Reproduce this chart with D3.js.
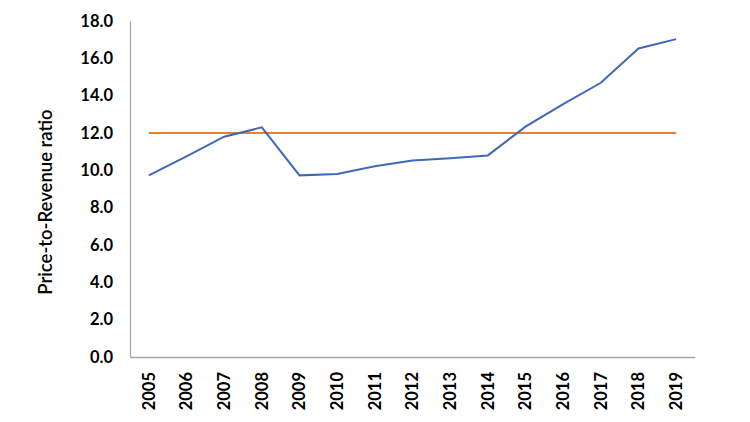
<!DOCTYPE html>
<html><head><meta charset="utf-8">
<script src="https://cdn.jsdelivr.net/npm/d3@7"></script>
<style>body{margin:0;background:#fff;}svg{display:block;}</style>
</head><body>
<svg id="c" width="750" height="422"></svg>
<script>
const years = ["2005","2006","2007","2008","2009","2010","2011","2012","2013","2014","2015","2016","2017","2018","2019"];
const priceToRevenue = [9.73,10.75,11.8,12.3,9.73,9.8,10.22,10.53,10.65,10.8,12.34,13.55,14.69,16.53,17.03];
const benchmark = [12,12,12,12,12,12,12,12,12,12,12,12,12,12,12];
const yTicks = [0,2,4,6,8,10,12,14,16,18];
const yLabel = "Price-to-Revenue ratio";

(function(){
const svg = d3.select("#c");
const mLeft = 130, mRight = 695, mTop = 21, mBottom = 357;
const x = d3.scaleBand().domain(years).range([mLeft, mRight]);
const y = d3.scaleLinear().domain([0, 18]).range([mBottom, mTop]);
const font = "Lato, 'Open Sans', sans-serif";

const yAxis = d3.axisLeft(y).tickValues(yTicks).tickFormat(d3.format(".1f")).tickSize(0).tickPadding(17);
const gy = svg.append("g").attr("transform", `translate(${mLeft},0)`).call(yAxis);
gy.select(".domain").attr("stroke", "#a6a6a6").attr("stroke-width", 1.3);
gy.selectAll("text").attr("font-family", font).attr("font-weight", "bold").attr("font-size", 16.5).attr("fill", "#000");

const xAxis = d3.axisBottom(x).tickSize(0).tickPadding(0);
const gx = svg.append("g").attr("transform", `translate(0,${mBottom})`).call(xAxis);
gx.select(".domain").attr("stroke", "#a6a6a6").attr("stroke-width", 1.3);
gx.selectAll("text")
  .attr("font-family", font).attr("font-weight", "bold").attr("font-size", 16.5).attr("fill", "#000")
  .attr("transform", "rotate(-90)")
  .attr("text-anchor", "end")
  .attr("x", -15).attr("y", 0).attr("dy", "0.35em");

svg.append("text")
  .attr("transform", `translate(52,${(mTop+mBottom)/2+13}) rotate(-90)`)
  .attr("text-anchor", "middle")
  .attr("font-family", font).attr("font-size", 18.5).attr("font-weight", 600).attr("fill", "#000")
  .text(yLabel);

const cx = d => x(d) + x.bandwidth()/2;
const line = d3.line().x((d,i) => cx(years[i])).y(d => y(d));

svg.append("path").datum(benchmark).attr("d", line)
  .attr("fill", "none").attr("stroke", "#ED7D31").attr("stroke-width", 2);
svg.append("path").datum(priceToRevenue).attr("d", line)
  .attr("fill", "none").attr("stroke", "#3F69B8").attr("stroke-width", 2);
})();
</script>
</body></html>
